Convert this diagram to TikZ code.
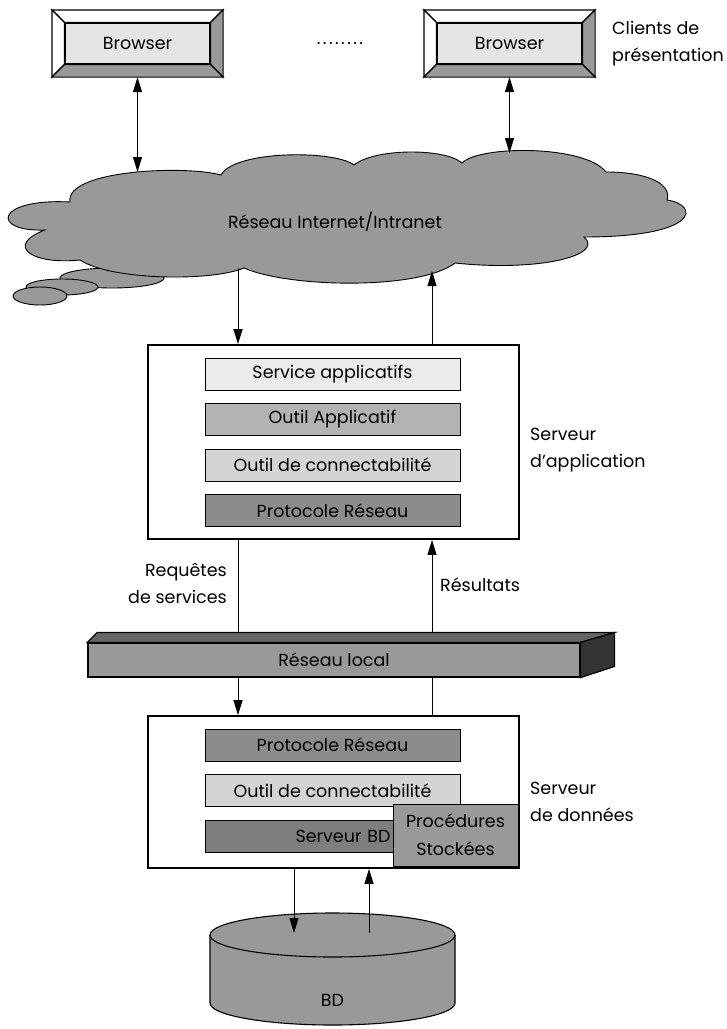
\documentclass[tikz,border=0pt]{standalone}
\usepackage{fontspec}
\setmainfont{Poppins}
\usetikzlibrary{arrows.meta,calc}

\definecolor{cloudgray}{HTML}{999999}
\definecolor{browserfill}{HTML}{E5E5E5}
\definecolor{bevelgray}{HTML}{999999}
\definecolor{barvlight}{HTML}{EBEBEB}
\definecolor{barlight}{HTML}{D4D4D4}
\definecolor{barmid}{HTML}{B3B3B3}
\definecolor{bardark}{HTML}{8C8C8C}
\definecolor{bardarker}{HTML}{7E7E7E}
\definecolor{lantop}{HTML}{666666}
\definecolor{lanside}{HTML}{333333}

\newcommand\lbl{\fontsize{17.5}{27}\selectfont}

\tikzset{
  browserbox/.style={draw, line width=1.2pt, fill=browserfill, minimum width=145, minimum height=41, inner sep=0pt, font=\lbl},
  bevel/.style={draw, line width=1.2pt, line join=miter},
  server/.style={draw, line width=1.8pt, fill=white, minimum width=371, inner sep=0pt},
  layer/.style={draw, line width=0.9pt, minimum width=255, minimum height=32, inner sep=0pt, font=\lbl},
  side/.style={font=\lbl, align=left, anchor=west, inner sep=0pt},
  link/.style={line width=0.9pt},
  arrowto/.style={link, -{Triangle[length=15pt,width=9pt]}},
  arrowboth/.style={link, {Triangle[length=15pt,width=9pt]}-{Triangle[length=15pt,width=9pt]}},
}

\begin{document}
\begin{tikzpicture}[x=1pt, y=-1pt]
\useasboundingbox (0,0) rectangle (727,1029);

% ---------- presentation clients ----------
\node[browserbox] (b1) at (137.5,43.5) {Browser};
\node[browserbox] (b2) at (509.5,43.5) {Browser};
\foreach \n in {b1,b2} {
  \coordinate (\n-o1) at ($(\n.north west)+(-12.5,-12.5)$);
  \coordinate (\n-o2) at ($(\n.north east)+(12.5,-12.5)$);
  \coordinate (\n-o3) at ($(\n.south east)+(12.5,12.5)$);
  \coordinate (\n-o4) at ($(\n.south west)+(-12.5,12.5)$);
  \path[bevel, fill=white] (\n-o1) -- (\n-o2) -- (\n.north east) -- (\n.north west) -- cycle;
  \path[bevel, fill=white] (\n-o1) -- (\n.north west) -- (\n.south west) -- (\n-o4) -- cycle;
  \path[bevel, fill=bevelgray] (\n-o2) -- (\n-o3) -- (\n.south east) -- (\n.north east) -- cycle;
  \path[bevel, fill=bevelgray] (\n-o4) -- (\n.south west) -- (\n.south east) -- (\n-o3) -- cycle;
  \node[browserbox] at (\n) {Browser};
}
\node[font=\lbl] (dots) at (340,44) {.\kern2.4pt.\kern2.4pt.\kern2.4pt.\kern2.4pt.\kern2.4pt.\kern2.4pt.\kern2.4pt.};
\node[side] (clients) at (612,44) {Clients de\\présentation};

% ---------- network cloud ----------
\draw[line width=0.9pt, fill=cloudgray] (112,278) ellipse [x radius=52, y radius=10];
\draw[line width=0.9pt, fill=cloudgray] (62,287) ellipse [x radius=36, y radius=8];
\draw[line width=0.9pt, fill=cloudgray] (40,296) ellipse [x radius=27, y radius=9];
\draw[line width=0.9pt, fill=cloudgray]
  (70,202) .. controls (65,170) and (185,165) .. (221,175)
  .. controls (235,150) and (335,150) .. (354,165)
  .. controls (375,148) and (445,148) .. (462,163)
  .. controls (480,145) and (585,145) .. (606,172)
  .. controls (650,172) and (672,185) .. (667,200)
  .. controls (700,205) and (700,237) .. (584,237)
  .. controls (605,255) and (540,272) .. (455,263)
  .. controls (420,290) and (290,288) .. (244,268)
  .. controls (210,282) and (110,280) .. (80,260)
  .. controls (30,265) and (5,245) .. (45,230)
  .. controls (-10,232) and (-5,198) .. (70,202) -- cycle;
\node[font=\lbl] (net) at (335,222) {Réseau Internet/Intranet};
\coordinate (cl-top1) at (137.5,172);
\coordinate (cl-top2) at (509.5,153);
\coordinate (cl-bot1) at (238,268);
\coordinate (cl-bot2) at (432,271);

\draw[arrowboth] (b1-o4 -| b1.south) -- (cl-top1);
\draw[arrowboth] (b2-o4 -| b2.south) -- (cl-top2);

% ---------- application server ----------
\node[server, minimum height=194] (app) at (333.5,442) {};
\node[layer, fill=barvlight] (app1) at (332.5,374) {Service applicatifs};
\node[layer, fill=barmid] (app2) at (332.5,419.5) {Outil Applicatif};
\node[layer, fill=barlight] (app3) at (332.5,465) {Outil de connectabilité};
\node[layer, fill=bardark] (app4) at (332.5,510.5) {Protocole Réseau};
\node[side] (applbl) at (530,450) {Serveur\\d’application};

\draw[arrowto] (cl-bot1) -- (app.north -| cl-bot1);
\draw[arrowto] (app.north -| cl-bot2) -- (cl-bot2);

% ---------- local network ----------
\node[draw, line width=1.2pt, fill=cloudgray, minimum width=492, minimum height=34, inner sep=0pt, font=\lbl] (lan) at (334,660) {Réseau local};
\draw[line width=1.2pt, fill=lantop, line join=miter] (lan.north west) -- ++(10,-10) -- ($(lan.north east)+(34,-10)$) -- (lan.north east) -- cycle;
\draw[line width=1.2pt, fill=lanside, line join=miter] (lan.north east) -- ++(34,-10) -- ++(0,34) -- (lan.south east) -- cycle;
\coordinate (lan-top1) at ($(lan.north -| cl-bot1)+(0,-10)$);
\coordinate (lan-top2) at ($(lan.north -| cl-bot2)+(0,-10)$);

\draw[link] (app.south -| cl-bot1) -- (lan-top1);
\draw[arrowto] (lan-top2) -- (app.south -| cl-bot2);
\node[font=\lbl, align=right, anchor=east, inner sep=0pt] (req) at (227,583) {Requêtes\\de services};
\node[side] (res) at (440,585) {Résultats};

% ---------- data server ----------
\node[server, minimum height=152] (data) at (333.5,792) {};
\node[layer, fill=bardark] (dat1) at (332.5,745) {Protocole Réseau};
\node[layer, fill=barlight] (dat2) at (332.5,790.5) {Outil de connectabilité};
\node[layer, fill=bardarker, minimum width=188, text width=183, align=right] (dat3) at (299,836) {Serveur BD};
\node[draw, line width=0.9pt, fill=cloudgray, minimum width=125, minimum height=62, inner sep=0pt, align=center, font=\fontsize{17.5}{28}\selectfont] (proc) at (455.5,835) {Procédures\\Stockées};
\node[side] (datlbl) at (530,802) {Serveur\\de données};

\draw[arrowto] (lan.south -| cl-bot1) -- (data.north -| cl-bot1);
\draw[link] (lan.south -| cl-bot2) -- (data.north -| cl-bot2);

% ---------- database ----------
\fill[cloudgray] (210,935) -- (210,1003) arc[start angle=180, end angle=0, x radius=122.5, y radius=22] -- (455,935) -- cycle;
\draw[line width=1.1pt] (210,935) -- (210,1003) arc[start angle=180, end angle=0, x radius=122.5, y radius=22] -- (455,935);
\draw[line width=1.1pt, fill=cloudgray] (332.5,935) ellipse [x radius=122.5, y radius=22];
\node[font=\lbl] (db) at (332.5,1000) {BD};
\coordinate (db-top1) at (294,933);
\coordinate (db-top2) at (369,933);

\draw[arrowto] (data.south -| db-top1) -- (db-top1);
\draw[arrowto] (db-top2) -- (data.south -| db-top2);
\end{tikzpicture}
\end{document}
